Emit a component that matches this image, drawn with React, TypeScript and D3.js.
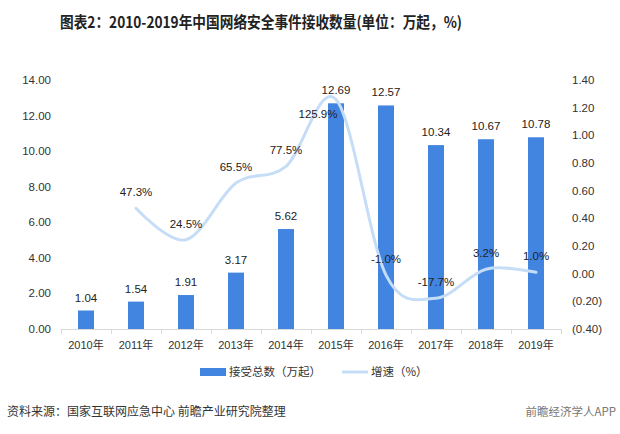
import React from "react";
import * as d3 from "d3";

const years = ["2010年", "2011年", "2012年", "2013年", "2014年", "2015年", "2016年", "2017年", "2018年", "2019年"];
const totals = [1.04, 1.54, 1.91, 3.17, 5.62, 12.69, 12.57, 10.34, 10.67, 10.78];
const growth: (number | null)[] = [null, 0.473, 0.245, 0.655, 0.775, 1.259, -0.01, -0.177, 0.032, 0.01];
const growthLabels = ["", "47.3%", "24.5%", "65.5%", "77.5%", "125.9%", "-1.0%", "-17.7%", "3.2%", "1.0%"];
const leftTicks = [0, 2, 4, 6, 8, 10, 12, 14];
const rightTicks = [-0.4, -0.2, 0, 0.2, 0.4, 0.6, 0.8, 1.0, 1.2, 1.4];

const W = 620, H = 434;
const top = 80, bottom = 329;
const FONT = "'Liberation Sans', Arial, 'Noto Sans CJK SC', sans-serif";

export default function App() {
  const x = d3.scaleBand<string>().domain(years).range([61, 561]).paddingInner(0.68).paddingOuter(0.34);
  const xc = (d: string) => (x(d) as number) + x.bandwidth() / 2;
  const yL = d3.scaleLinear().domain([0, 14]).range([bottom, top]);
  const yR = d3.scaleLinear().domain([-0.4, 1.4]).range([bottom, top]);
  const pts = years.map((d, i) => ({ d, v: growth[i] })).filter(p => p.v !== null) as { d: string; v: number }[];
  const line = d3.line<{ d: string; v: number }>().x(p => xc(p.d)).y(p => yR(p.v)).curve(d3.curveCatmullRom.alpha(0));
  const fmtR = (v: number) => {
    const s = Math.abs(v).toFixed(2);
    return v < -1e-9 ? `(${s})` : s;
  };
  const step = x.step();
  const blue = "#4285E0";
  const lineColor = "#C6DDF7";

  return (
    <svg width={W} height={H} style={{ display: "block", position: "absolute", left: 0, top: 0, background: "#fff" }} fontFamily={FONT}>
      <text x={60} y={28} fontSize={15.5} fontWeight="bold" fill="#222" fontFamily="'Noto Sans CJK SC', sans-serif" textLength={402} lengthAdjust="spacingAndGlyphs">
        图表2：2010-2019年中国网络安全事件接收数量(单位：万起，%)
      </text>

      {leftTicks.map(t => (
        <text key={"l" + t} x={51} y={yL(t) + 4} textAnchor="end" fontSize={11.5} fill="#333">{t.toFixed(2)}</text>
      ))}
      {rightTicks.map(t => (
        <text key={"r" + t} x={572} y={yR(t) + 4} textAnchor="start" fontSize={11.5} fill="#333">{fmtR(t)}</text>
      ))}

      {years.map((d, i) => (
        <rect key={d} x={x(d)} y={yL(totals[i])} width={x.bandwidth()} height={bottom - yL(totals[i])} fill={blue} />
      ))}

      <line x1={61} x2={561} y1={bottom + 0.5} y2={bottom + 0.5} stroke="#D9D9D9" />
      {d3.range(years.length + 1).map(i => (
        <line key={"t" + i} x1={61 + i * step + 0.5} x2={61 + i * step + 0.5} y1={bottom} y2={bottom + 5} stroke="#D9D9D9" />
      ))}
      {years.map(d => (
        <text key={"x" + d} x={xc(d)} y={bottom + 20} textAnchor="middle" fontSize={11} fill="#333">{d}</text>
      ))}

      <path d={line(pts) || ""} fill="none" stroke={lineColor} strokeWidth={3} strokeLinecap="round" />

      {years.map((d, i) => (
        <text key={"v" + d} x={xc(d)} y={yL(totals[i]) - 9} textAnchor="middle" fontSize={11.5} fill="#222">{totals[i].toFixed(2)}</text>
      ))}
      {pts.map(p => {
        const i = years.indexOf(p.d);
        const special = i === 5;
        const lx = special ? xc(p.d) - 18 : xc(p.d);
        const ly = special ? yR(p.v) + 18 : yR(p.v) - 12;
        return (
          <text key={"g" + p.d} x={lx} y={ly} textAnchor="middle" fontSize={11.5} fill="#222">{growthLabels[i]}</text>
        );
      })}

      <rect x={200} y={368} width={26} height={8} fill={blue} />
      <text x={229} y={376} fontSize={11.5} fill="#333" fontFamily="'Noto Sans CJK SC', sans-serif">接受总数（万起）</text>
      <line x1={342} x2={368} y1={372} y2={372} stroke={lineColor} strokeWidth={3} />
      <text x={371} y={376} fontSize={11.5} fill="#333" fontFamily="'Noto Sans CJK SC', sans-serif">增速（%）</text>

      <text x={7} y={416} fontSize={12} fill="#333" fontFamily="'Noto Sans CJK SC', sans-serif">资料来源：国家互联网应急中心 前瞻产业研究院整理</text>
      <text x={616} y={416} textAnchor="end" fontSize={11.5} fill="#777" fontFamily="'Noto Sans CJK SC', sans-serif">前瞻经济学人APP</text>
    </svg>
  );
}
